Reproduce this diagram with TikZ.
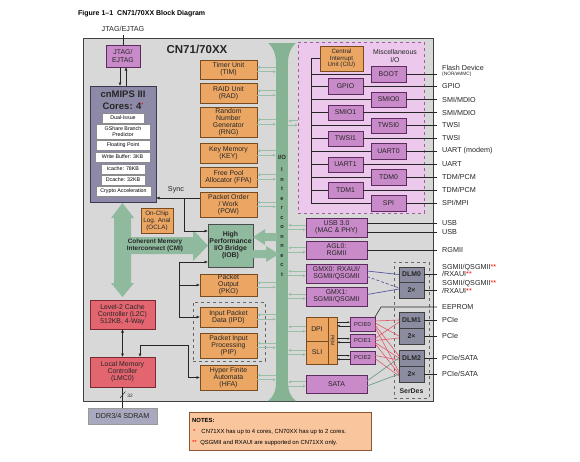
\documentclass[tikz,border=0pt]{standalone}
\usepackage{fontspec}
\setmainfont{Liberation Sans}
\usetikzlibrary{arrows.meta,calc}
\definecolor{chipgray}{HTML}{D8D8D8}
\definecolor{oran}{HTML}{EBA664}
\definecolor{obord}{HTML}{7A4B1E}
\definecolor{purp}{HTML}{C98AC9}
\definecolor{pbord}{HTML}{5E2B5E}
\definecolor{miscf}{HTML}{EDC8ED}
\definecolor{miscd}{HTML}{A25AA2}
\definecolor{icg}{HTML}{86B394}
\definecolor{iobg}{HTML}{8FBA9E}
\definecolor{smallg}{HTML}{98BFA4}
\definecolor{redf}{HTML}{E3656F}
\definecolor{redd}{HTML}{7A2A32}
\definecolor{cpuf}{HTML}{8D8AA7}
\definecolor{cpud}{HTML}{3B3954}
\definecolor{dlmf}{HTML}{8C8CA1}
\definecolor{ddrf}{HTML}{A8A8BE}
\definecolor{notef}{HTML}{F9C59C}
\definecolor{noted}{HTML}{8A5634}
\definecolor{redln}{HTML}{E2566A}
\definecolor{blueln}{HTML}{5858A6}
\definecolor{sataln}{HTML}{6E9C8C}
\newcommand\fnB{\fontsize{6.9}{7.1}\selectfont}
\newcommand\fnS{\fontsize{5.3}{5.7}\selectfont}
\newcommand\fnL{\fontsize{7.2}{7.6}\selectfont}
\newcommand\mybox[7]{\node[inner sep=0pt, outer sep=0pt, align=center, #2, minimum width={(#5-#3)*1pt}, minimum height={(#6-#4)*1pt}] (#1) at ({(#3+#5)/2},{(#4+#6)/2}) {#7};}
\tikzset{
  chipbox/.style={draw=black!75, fill=chipgray, line width=0.8pt},
  obox/.style={draw=obord, fill=oran, line width=0.6pt, font=\fnB, text=black!85},
  pbox/.style={draw=pbord, fill=purp, line width=0.6pt, font=\fnB, text=black!85},
  gbox/.style={draw=black!70, fill=iobg, line width=0.6pt, font=\bfseries\fnB, text=black!85},
  rbox/.style={draw=redd, fill=redf, line width=0.6pt, font=\fnB, text=black!85},
  wbox/.style={draw=black!45, fill=white, line width=0.4pt, font=\fnS},
  cpubox/.style={draw=cpud, fill=cpuf, line width=0.8pt},
  dlmbox/.style={draw=black!75, fill=dlmf, line width=0.6pt, font=\bfseries\fnB, text=black!85},
  dashbox/.style={draw=black!60, dashed, line width=0.6pt},
  lbl/.style={anchor=west, inner sep=0pt, font=\fnL, text=black!85},
  gsm/.style={draw=smallg, line width=0.8pt, -{Latex[length=3pt,width=3pt]}},
  blk/.style={draw=black!85, line width=0.6pt},
  >={Latex[length=3.5pt,width=3pt]}
}
\begin{document}
\begin{tikzpicture}[x=1pt,y=-1pt]
\useasboundingbox (0,0) rectangle (580,461);
\fill[white] (0,0) rectangle (580,461);
\node[anchor=west, inner sep=0pt, font=\bfseries\fontsize{7}{8}\selectfont] (title) at (78,14) {Figure 1–1\hspace{4pt}CN71/70XX Block Diagram};
% chip
\mybox{chip}{chipbox}{83}{38}{433}{401}{}
\node[font=\bfseries\fontsize{11.5}{13}\selectfont, text=black!85] (chipname) at (197,49) {CN71/70XX};
% misc region and dashed boxes
\mybox{misc}{draw=miscd, fill=miscf, dashed, line width=0.7pt}{298}{42}{424}{213}{}
\node[font=\fnB, align=center, text=black!85] (misclbl) at (395,56) {Miscellaneous\\I/O};
\mybox{serdes}{dashbox}{394}{262}{429}{398}{}
\node[font=\bfseries\fnB, text=black!85] (serdeslbl) at (411.5,391) {SerDes};
\mybox{ipbox}{dashbox}{193}{302}{265}{361}{}
% interconnect bar
\mybox{bus}{fill=icg}{276}{43}{288}{401}{}
\fill[icg] (268,43) -- (296,43) .. controls (290,48) and (288,55) .. (288,63) -- (276,63) .. controls (276,55) and (274,48) .. (268,43) -- cycle;
\fill[icg] (276,382) .. controls (276,392) and (273,397) .. (268,401) -- (296,401) .. controls (291,397) and (288,392) .. (288,382) -- cycle;
\node[font=\bfseries\fontsize{6}{7}\selectfont, text=black!85] (ictop) at (282,157) {I/O};
\node[font=\bfseries\fontsize{5.6}{9.5}\selectfont, align=center, text=black!85, inner sep=0pt] (icword) at (282,222) {I\\n\\t\\e\\r\\c\\o\\n\\n\\e\\c\\t};
% JTAG
\node[font=\fnL, text=black!85] (jl) at (123,29) {JTAG/EJTAG};
\mybox{jtag}{pbox}{106}{45}{140}{67}{JTAG/\\EJTAG}
% cnMIPS
\mybox{cpu}{cpubox}{90}{86}{156}{202}{}
\node[font=\bfseries\fontsize{9.5}{11.5}\selectfont, align=center, text=black!85] (cputitle) at (123,100) {cnMIPS III\\Cores: 4\textcolor{red}{\raisebox{3pt}{\tiny*}}};
\mybox{c1}{wbox}{102}{113}{144}{123}{Dual-Issue}
\mybox{c2}{wbox}{96}{124}{150}{139}{GShare Branch\\Predictor}
\mybox{c3}{wbox}{96}{140}{150}{150}{Floating Point}
\mybox{c4}{wbox}{95}{152}{150}{162}{Write Buffer: 3KB}
\mybox{c5}{wbox}{101}{164}{145}{174}{Icache: 78KB}
\mybox{c6}{wbox}{101}{175}{145}{185}{Dcache: 32KB}
\mybox{c7}{wbox}{96}{186}{151}{196}{Crypto Acceleration}
% CMI big arrow
\fill[iobg] (122.5,203) -- (134,218) -- (131,218) -- (131,237) -- (193,237) -- (193,230) -- (208,245.5) -- (193,261) -- (193,254) -- (131,254) -- (131,283) -- (134,283) -- (122.5,297) -- (111,283) -- (114,283) -- (114,218) -- (111,218) -- cycle;
\node[font=\bfseries\fontsize{6.4}{6.8}\selectfont, align=center, text=black!85] (cmi) at (155,245.5) {Coherent Memory\\Interconnect (CMI)};
\mybox{ocla}{obox, font=\fontsize{6.3}{6.9}\selectfont}{141}{208}{173}{233}{On-Chip\\Log. Anal\\(OCLA)}
% orange column
\mybox{tim}{obox}{200}{60}{257}{79}{Timer Unit\\(TIM)}
\mybox{rad}{obox}{200}{83}{257}{103}{RAID Unit\\(RAD)}
\mybox{rng}{obox}{200}{107}{257}{137}{Random\\Number\\Generator\\(RNG)}
\mybox{key}{obox}{200}{143}{257}{163}{Key Memory\\(KEY)}
\mybox{fpa}{obox}{200}{167}{257}{187}{Free Pool\\Allocator (FPA)}
\mybox{pow}{obox}{200}{192}{257}{217}{Packet Order\\/ Work\\(POW)}
\mybox{iob}{gbox}{208}{224}{253}{267}{High\\Performance\\I/O Bridge\\(IOB)}
\mybox{pko}{obox}{200}{274}{257}{296}{Packet\\Output\\(PKO)}
\mybox{ipd}{obox}{200}{307}{257}{327}{Input Packet\\Data (IPD)}
\mybox{pip}{obox}{200}{333}{257}{358}{Packet Input\\Processing\\(PIP)}
\mybox{hfa}{obox}{200}{365}{257}{390}{Hyper Finite\\Automata\\(HFA)}
% memory side
\mybox{l2c}{rbox}{90}{300}{155}{329}{Level-2 Cache\\Controller (L2C)\\512KB, 4-Way}
\mybox{lmc}{rbox}{90}{357}{155}{387}{Local Memory\\Controller\\(LMC0)}
\mybox{ddr}{draw=black!40, fill=ddrf, font=\fnL, text=black!85}{88}{408}{157}{424}{DDR3/4 SDRAM}
% IOB big arrows
\fill[iobg] (253,237) -- (265,229) -- (265,233) -- (277,233) -- (277,241) -- (265,241) -- (265,245) -- cycle;
\fill[iobg] (253,250) -- (266,250) -- (266,246) -- (279,254) -- (266,262) -- (266,258) -- (253,258) -- cycle;
% misc I/O boxes
\mybox{ciu}{obox, font=\fontsize{6.2}{6.8}\selectfont}{320}{46}{363}{71}{Central\\Interrupt\\Unit (CIU)}
\mybox{boot}{pbox}{371}{66}{406}{82}{BOOT}
\mybox{gpio}{pbox}{328}{78}{363}{94}{GPIO}
\mybox{smio0}{pbox}{371}{92}{406}{107}{SMIO0}
\mybox{smio1}{pbox}{328}{105}{363}{120}{SMIO1}
\mybox{twsi0}{pbox}{371}{118}{406}{133}{TWSI0}
\mybox{twsi1}{pbox}{328}{131}{363}{146}{TWSI1}
\mybox{uart0}{pbox}{371}{143}{406}{159}{UART0}
\mybox{uart1}{pbox}{328}{157}{363}{172}{UART1}
\mybox{tdm0}{pbox}{371}{169}{406}{185}{TDM0}
\mybox{tdm1}{pbox}{328}{182}{363}{198}{TDM1}
\mybox{spi}{pbox}{371}{195}{406}{211}{SPI}
% lower right boxes
\mybox{usb}{pbox}{306}{218}{367}{237}{USB 3.0\\(MAC \& PHY)}
\mybox{agl}{pbox}{306}{241}{367}{259}{AGL0:\\RGMII}
\mybox{gmx0}{pbox}{306}{264}{367}{283}{GMX0: RXAUI/\\SGMII/QSGMII}
\mybox{gmx1}{pbox}{306}{287}{367}{306}{GMX1:\\SGMII/QSGMII}
\mybox{dpi}{obox}{306}{317}{328}{341}{DPI}
\mybox{sli}{obox}{306}{341}{328}{364}{SLI}
\mybox{pem}{obox}{328}{317}{337}{364}{}
\node[rotate=-90, font=\fontsize{5}{5}\selectfont, text=black!85] (pemtxt) at (pem) {PEM};
\mybox{pcie0}{pbox, font=\fontsize{5.8}{6}\selectfont}{350}{317}{375}{331}{PCIE0}
\mybox{pcie1}{pbox, font=\fontsize{5.8}{6}\selectfont}{350}{334}{375}{347}{PCIE1}
\mybox{pcie2}{pbox, font=\fontsize{5.8}{6}\selectfont}{350}{351}{375}{364}{PCIE2}
\mybox{sata}{pbox}{306}{375}{367}{393}{SATA}
\mybox{dlm0}{dlmbox}{399}{267}{424}{282}{DLM0}
\mybox{xa}{dlmbox}{399}{282}{424}{298}{2×}
\mybox{dlm1}{dlmbox}{399}{312}{424}{328}{DLM1}
\mybox{xb}{dlmbox}{399}{328}{424}{344}{2×}
\mybox{dlm2}{dlmbox}{399}{350}{424}{366}{DLM2}
\mybox{xc}{dlmbox}{399}{366}{424}{382}{2×}
% notes
\mybox{notes}{draw=noted, fill=notef, line width=0.7pt}{189}{412}{371}{450}{}
\node[anchor=west, inner sep=0pt, font=\bfseries\fontsize{5.9}{6.5}\selectfont] (nt0) at (192,420) {NOTES:};
\node[anchor=west, inner sep=0pt, font=\fontsize{5.9}{6.5}\selectfont] (nt1) at (193,432) {\textcolor{red}{*}\hspace{6pt}CN71XX has up to 4 cores, CN70XX has up to 2 cores.};
\node[anchor=west, inner sep=0pt, font=\fontsize{5.9}{6.5}\selectfont] (nt2) at (192,443) {\textcolor{red}{**}\hspace{3.5pt}QSGMII and RXAUI are supported on CN71XX only.};
% right labels
\coordinate (rx) at (437,0);
\coordinate (mbx) at (311,0);
\node[lbl, align=left] (lflash) at (442,71) {Flash Device\\[-2.5pt]{\fontsize{4.8}{5}\selectfont (NOR/eMMC)}};
\node[lbl] (lgpio) at (442,86) {GPIO};
\node[lbl] (lsmi0) at (442,99.5) {SMI/MDIO};
\node[lbl] (lsmi1) at (442,112.5) {SMI/MDIO};
\node[lbl] (ltw0) at (442,125.5) {TWSI};
\node[lbl] (ltw1) at (442,138.5) {TWSI};
\node[lbl] (luart0) at (442,151) {UART (modem)};
\node[lbl] (luart1) at (442,164.5) {UART};
\node[lbl] (ltdm0) at (442,177) {TDM/PCM};
\node[lbl] (ltdm1) at (442,190) {TDM/PCM};
\node[lbl] (lspi) at (442,203) {SPI/MPI};
\node[lbl] (lusb1) at (442,223) {USB};
\node[lbl] (lusb2) at (442,232) {USB};
\node[lbl] (lrgmii) at (442,250) {RGMII};
\node[lbl, align=left] (lsg0) at (442,270.5) {SGMII/QSGMII\textcolor{red}{**}\\/RXAUI\textcolor{red}{**}};
\node[lbl, align=left] (lsg1) at (442,287) {SGMII/QSGMII\textcolor{red}{**}\\/RXAUI\textcolor{red}{**}};
\node[lbl] (leep) at (442,307) {EEPROM};
\node[lbl] (lpcie0) at (442,320) {PCIe};
\node[lbl] (lpcie1) at (442,336) {PCIe};
\node[lbl] (lps0) at (442,358) {PCIe/SATA};
\node[lbl] (lps1) at (442,374) {PCIe/SATA};
% misc connections
\draw[blk] (ciu.west) -- (ciu.west -| mbx) -- (spi.west -| mbx) -- (spi.west);
\foreach \n in {boot,gpio,smio0,smio1,twsi0,twsi1,uart0,uart1,tdm0,tdm1}{
  \draw[blk] (\n.west -| mbx) -- (\n.west);
}
\foreach \n in {boot,gpio,smio0,smio1,twsi0,twsi1,uart0,uart1,tdm0,tdm1,spi,agl,dlm0,xa,dlm1,xb,dlm2,xc}{
  \draw[blk] (\n.east) -- (\n.east -| rx);
}
\draw[blk] ($(usb.east)+(0,-4.5)$) -- ($(usb.east -| rx)+(0,-4.5)$);
\draw[blk] ($(usb.east)+(0,4.5)$) -- ($(usb.east -| rx)+(0,4.5)$);
\coordinate (ee) at (381,307);
\draw[blk] (pcie0.north east) -- (ee) -- (ee -| rx);
% serdes links
\draw[blueln, line width=0.7pt] ($(gmx0.east)+(0,-2.5)$) -- (dlm0.west);
\draw[blueln, line width=0.7pt, dash pattern=on 3pt off 2pt] ($(gmx0.east)+(0,3)$) -- ($(xa.west)+(0,-2)$);
\draw[blueln, line width=0.7pt] ($(gmx1.east)+(0,-2)$) -- ($(xa.west)+(0,-1)$);
\foreach \a/\da/\b/\db in {pcie0/-3/dlm1/0,pcie0/-1/xb/0,pcie0/1/dlm2/-2,pcie0/3/xc/-2,pcie1/-2/dlm1/2,pcie1/0/xb/2,pcie1/2/dlm2/0,pcie1/3/xc/0,pcie2/-2/dlm2/2,pcie2/1/xc/2}{
  \draw[redln, line width=0.6pt] ($(\a.east)+(0,\da)$) -- ($(\b.west)+(0,\db)$);
}
\draw[sataln, line width=0.7pt] ($(sata.east)+(0,-3)$) -- (dlm2.west);
\draw[sataln, line width=0.7pt] ($(sata.east)+(0,2)$) -- (xc.west);
\foreach \n in {pcie0,pcie1,pcie2}{
  \draw[blk, line width=0.5pt, -{Latex[length=2.5pt,width=2.2pt]}] ($(\n.west -| pem.east)+(0,-1.8)$) -- ($(\n.west)+(0,-1.8)$);
  \draw[blk, line width=0.5pt, -{Latex[length=2.5pt,width=2.2pt]}] ($(\n.west)+(0,1.8)$) -- ($(\n.west -| pem.east)+(0,1.8)$);
}
% small green pairs
\foreach \n in {tim,rad,rng,key,fpa,pow,pko,ipd,pip,hfa}{
  \draw[gsm] ($(\n.east -| bus.west)+(0,-2.2)$) -- ($(\n.east)+(0,-2.2)$);
  \draw[gsm] ($(\n.east)+(0,2.2)$) -- ($(\n.east -| bus.west)+(0,2.2)$);
}
\foreach \n in {usb,agl,gmx0,gmx1,dpi,sli,sata}{
  \draw[gsm] ($(\n.west)+(0,-2.2)$) -- ($(\n.west -| bus.east)+(0,-2.2)$);
  \draw[gsm] ($(\n.west -| bus.east)+(0,2.2)$) -- ($(\n.west)+(0,2.2)$);
}
\draw[gsm] ($(misc.west)+(0,-6.7)$) -- ($(misc.west -| bus.east)+(0,-6.7)$);
\draw[gsm] ($(misc.west -| bus.east)+(0,-2.3)$) -- ($(misc.west)+(0,-2.3)$);
% black connectors
\draw[blk] (jl.south) -- (jtag.north);
\draw[blk, ->] ($(jtag.south)+(-3,0)$) -- ($(jtag.south |- cpu.north)+(-3,0)$);
\draw[blk, ->] ($(jtag.south |- cpu.north)+(3,0)$) -- ($(jtag.south)+(3,0)$);
\coordinate (sy) at (200,198);
\coordinate (syj) at (184,198);
\draw[blk, ->] (sy) -- (sy -| cpu.east);
\node[font=\fnL, text=black!85] (synclbl) at (176,189.5) {Sync};
\coordinate (iobin) at (208,231);
\draw[blk, ->] (syj) |- (iobin);
\coordinate (bj) at (179,262);
\draw[blk, ->] (bj) -- (bj -| iob.west);
\draw[blk, ->] (bj) |- (ipd.west);
\draw[blk, ->] (bj |- pko.west) -- (pko.west);
\draw[blk, <->] (l2c.south) -- (lmc.north);
\coordinate (lm1) at (140,357);
\coordinate (lm2) at (188,345);
\draw[blk, ->] (lm2) |- (hfa.west);
\draw[blk, ->] (lm2) -| (lm1);
\draw[blk] (lmc.south) -- (ddr.north);
\draw[blk, line width=0.5pt] (120,398) -- (125.5,391.5);
\node[font=\fontsize{4.8}{5}\selectfont, inner sep=0pt, text=black!85] (w32) at (130,395.5) {32};
\end{tikzpicture}
\end{document}
